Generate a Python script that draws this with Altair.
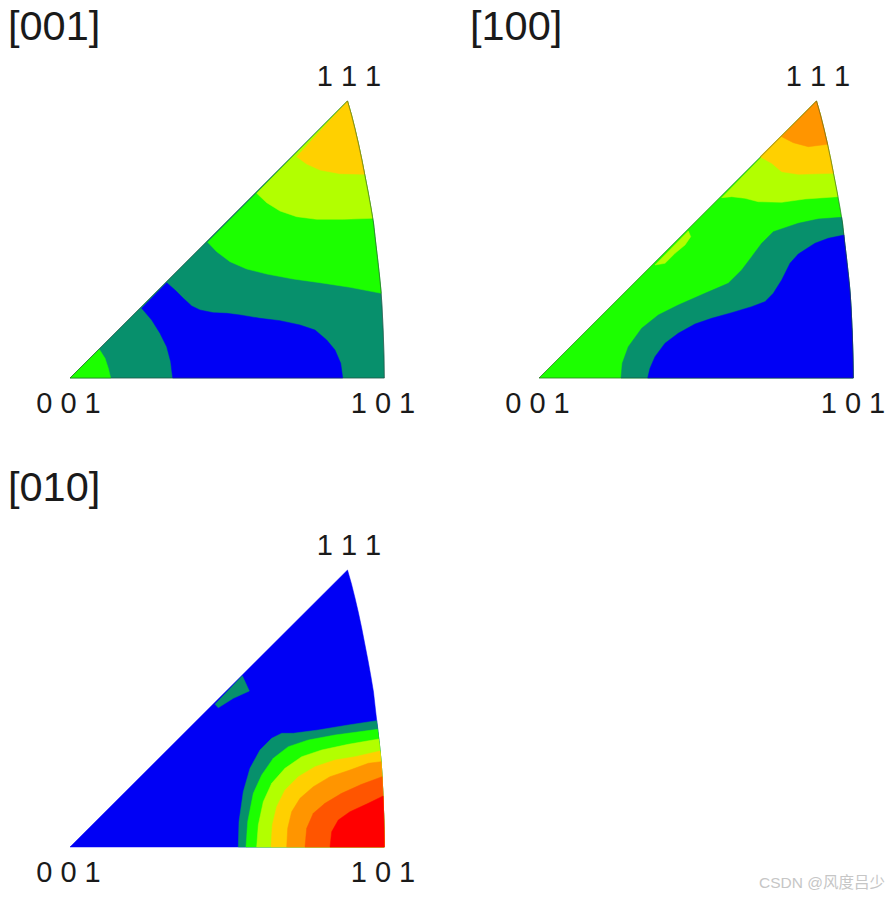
import altair as alt
import pandas as pd

TEAL = "#07906c"
BLUE = "#0000f5"
GREEN = "#1cff00"
LIME = "#b2ff00"
YELLOW = "#ffd000"
ORANGE = "#ff9500"
REDORANGE = "#ff5500"
RED = "#ff0000"

# Boundary arcs (apex to the 101 corner), page pixels
ARC_A = [(347.5,101),(351.5,115),(355,129),(358.5,144),(361.7,159),(365,176),(368.3,193),(371,208),(373.5,223),(375.5,241),(377.5,258),(379.5,276),(381,291),(382,306),(383.2,331),(384,356),(384.3,378)]
ARC_B = [(816.5,101),(820.5,115),(824,129),(827.5,144),(830.7,159),(834,176),(837.3,193),(840,208),(842.5,223),(844.5,241),(846.5,258),(848.5,276),(850,291),(851,306),(852.2,331),(853,356),(853.3,378)]
ARC_C = [(347.5,570),(351.5,584),(355,598),(358.5,613),(361.7,628),(365,645),(368.3,662),(371,677),(373.5,692),(375.5,710),(377.5,727),(379.5,745),(381,760),(382,775),(383.2,800),(384,825),(384.3,847)]
CORNER_A = (70,378)
CORNER_B = (539,378)
CORNER_C = (70,847)

# Panel [001]
A_BLUE = [(141.7,308.3),(151.7,320),(160,333.3),(166.7,346.7),(170.7,361.7),(172.7,378),(342.7,378),(340.7,363.3),(335,350),(326.7,340),(315,330),(300,325),(280,320.7),(260,318.3),(240,315),(226.7,313.3),(213.3,312.7),(200,310),(191.7,306),(183.3,298.3),(175,290),(166.7,282.7)]
A_GREEN_CORNER = [(70,378),(99.3,349.3),(105,358.3),(108.3,368.3),(110.7,378)]
A_GREEN = [(207.7,242.3),(216.7,251.7),(230,261.7),(246.7,269),(266.7,274),(293.3,279),(320,282.7),(350,287.3),(381.2,293.3)]
A_LIME = [(256.7,193.3),(266.7,202.7),(280,211),(296.7,216.7),(316.7,219.3),(343.3,219.3),(372.7,218.3)]
A_YELLOW = [(296.7,156.7),(306.7,164),(320,170),(340,173.7),(364.7,174.3)]

# Panel [100]
B_LIME_PATCH = [(655,265),(665,263.3),(675,253.3),(685,245),(690.7,236.7),(688.3,231)]
B_TEAL = [(621,378),(622.3,363.3),(628.3,346.7),(641.7,328.3),(658.3,315),(678.3,305),(705,293.3),(728.3,283.3),(741.7,270),(751.7,256.7),(761.7,243.3),(773.3,231.7),(798.3,223.3),(818.3,219),(841.7,217.3)]
B_BLUE = [(647.7,378),(650,368.3),(655,356.7),(665,343.3),(678.3,333.3),(695,324),(711.7,318.3),(731.7,312.7),(751.7,306.7),(765,301.7),(773.3,293.3),(781.7,280),(790,263.3),(798.3,254),(815,243.3),(828.3,238.3),(844,235)]
B_LIME = [(721.7,197.7),(731.7,196.7),(745,198.3),(758.3,201.7),(781.7,202.3),(805,199),(837.9,196.7)]
B_YELLOW = [(760,156.7),(771.7,163.3),(781.7,171.7),(798.3,174.3),(833.5,173.3)]
B_ORANGE = [(781.7,136.7),(793.3,142.7),(808.3,146.7),(827.6,144.3)]

# Panel [010]
C_TEAL_PATCH = [(215,704.3),(242.3,675.7),(249.3,691),(233.3,698.3),(218.3,707.7)]
C_TEAL = [(238.3,847),(239,821.7),(243.3,791.7),(250,768.3),(260,750),(271.7,738.3),(281.7,733.3),(293.3,733.3),(318.3,730),(348.3,725),(376.7,720.7)]
C_GREEN = [(246,847),(247.7,821.7),(253.3,793.3),(261.7,775),(273.3,758.3),(288.3,746.7),(308.3,740),(335,735),(377.7,729.3)]
C_LIME = [(256.7,847),(258.3,825),(263.3,801.7),(271.7,783.3),(285,768.3),(301.7,756.7),(321.7,750),(348.3,744.3),(378.8,739)]
C_YELLOW = [(271,847),(272.3,825),(276.7,806.7),(285,790),(298.3,776.7),(315,766.7),(335,760),(355,756.7),(380,751)]
C_ORANGE = [(286.7,847),(287.7,828.3),(291.7,811.7),(300,798.3),(313.3,786.7),(330,776.7),(350,770),(368.3,763.3),(381.1,761.7)]
C_REDORANGE = [(305,847),(306.7,828.3),(313.3,813.3),(325,803.3),(341.7,793.3),(361.7,784.3),(382.1,776.7)]
C_RED = [(330,847),(331.7,831.7),(338.3,820),(350,811.7),(368.3,803.3),(383.1,796)]

TITLES = [("[001]", 8, 39.5), ("[100]", 470, 39.5), ("[010]", 8, 500.5)]
LABELS = [
    ("1 1 1", 349, 86), ("0 0 1", 68.5, 412.5), ("1 0 1", 383, 412.5),
    ("1 1 1", 818, 86), ("0 0 1", 537.5, 412.5), ("1 0 1", 853, 412.5),
    ("1 1 1", 349, 555), ("0 0 1", 68.5, 881.5), ("1 0 1", 383, 881.5),
]
WATERMARK = [("CSDN @风度吕少", 885, 888)]

X = alt.X("x:Q", scale=alt.Scale(domain=[8, 885], nice=False, zero=False), axis=None)
Y = alt.Y("y:Q", scale=alt.Scale(domain=[891, 8], nice=False, zero=False), axis=None)


def upper(contour, arc):
    end = contour[-1][1]
    return contour + [p for p in reversed(arc) if p[1] < end]


def lower(contour, arc):
    end = contour[-1][1]
    return contour + [p for p in arc if p[1] > end]


def poly(color, pts):
    df = pd.DataFrame(
        {"x": [p[0] for p in pts] + [pts[0][0]],
         "y": [p[1] for p in pts] + [pts[0][1]],
         "i": list(range(len(pts) + 1))}
    )
    return alt.Chart(df).mark_line(fill=color, stroke=color, strokeWidth=0.5).encode(
        x=X, y=Y, order=alt.Order("i:Q")
    )


def outline(pts):
    df = pd.DataFrame(
        {"x": [p[0] for p in pts], "y": [p[1] for p in pts], "i": list(range(len(pts)))}
    )
    return alt.Chart(df).mark_line(color="#333333", strokeWidth=0.7, opacity=0.7).encode(
        x=X, y=Y, order=alt.Order("i:Q")
    )


def text(rows, **kw):
    df = pd.DataFrame(rows, columns=["t", "x", "y"])
    return alt.Chart(df).mark_text(baseline="alphabetic", **kw).encode(x=X, y=Y, text="t:N")


layers = [
    poly(TEAL, ARC_A + [CORNER_A]),
    poly(BLUE, A_BLUE),
    poly(GREEN, A_GREEN_CORNER),
    poly(GREEN, upper(A_GREEN, ARC_A)),
    poly(LIME, upper(A_LIME, ARC_A)),
    poly(YELLOW, upper(A_YELLOW, ARC_A)),
    outline(ARC_A),
    outline([CORNER_A, ARC_A[0]]),
    outline([CORNER_A, ARC_A[-1]]),

    poly(GREEN, ARC_B + [CORNER_B]),
    poly(LIME, B_LIME_PATCH),
    poly(TEAL, lower(B_TEAL, ARC_B)),
    poly(BLUE, lower(B_BLUE, ARC_B)),
    poly(LIME, upper(B_LIME, ARC_B)),
    poly(YELLOW, upper(B_YELLOW, ARC_B)),
    poly(ORANGE, upper(B_ORANGE, ARC_B)),
    outline(ARC_B),
    outline([CORNER_B, ARC_B[0]]),
    outline([CORNER_B, ARC_B[-1]]),

    poly(BLUE, ARC_C + [CORNER_C]),
    poly(TEAL, C_TEAL_PATCH),
    poly(TEAL, lower(C_TEAL, ARC_C)),
    poly(GREEN, lower(C_GREEN, ARC_C)),
    poly(LIME, lower(C_LIME, ARC_C)),
    poly(YELLOW, lower(C_YELLOW, ARC_C)),
    poly(ORANGE, lower(C_ORANGE, ARC_C)),
    poly(REDORANGE, lower(C_REDORANGE, ARC_C)),
    poly(RED, lower(C_RED, ARC_C)),

    text(TITLES, align="left", font="Liberation Sans", fontSize=41.5, color="#1a1a1a"),
    text(LABELS, align="center", font="Liberation Sans", fontSize=29, color="#1a1a1a"),
    text(WATERMARK, align="right", font="Liberation Sans, Noto Sans CJK SC", fontSize=15.5, color="#c6c6c6"),
]

chart = (
    alt.layer(*layers)
    .properties(width=877, height=883, padding=0, autosize=alt.AutoSizeParams(type="none"))
    .configure_view(stroke=None)
)

chart.save("out.html", embed_options={"renderer": "svg", "actions": False})
